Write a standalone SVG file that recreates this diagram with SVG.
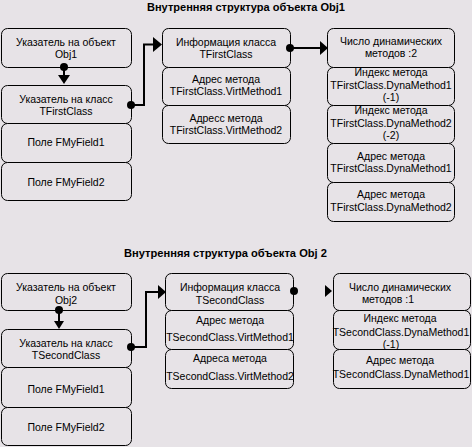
<svg xmlns="http://www.w3.org/2000/svg" width="472" height="447" viewBox="0 0 472 447">
<style>
.bg{fill:#e7e3e7}
.box{fill:#e7e3e7;stroke:#000;stroke-width:1}
.t{font-family:"Liberation Sans",Arial,sans-serif;font-size:10.5px;fill:#000;text-anchor:middle}
.title{font-family:"Liberation Sans",Arial,sans-serif;font-size:11px;font-weight:bold;fill:#000}
.ln{fill:none;stroke:#000;stroke-width:2}
.dot{fill:#000}
.ah{fill:#000}
</style>
<rect class="bg" x="0" y="0" width="472" height="447"/>
<text class="title" x="147" y="11" textLength="198" lengthAdjust="spacingAndGlyphs">Внутренняя структура объекта Obj1</text>
<text class="title" x="124" y="257" textLength="203" lengthAdjust="spacingAndGlyphs">Внутренняя структура объекта Obj 2</text>

<g id="obj1-ptr"><rect class="box" x="1.5" y="28.5" width="130" height="39" rx="6"/><text class="t" x="66" y="46">Указатель на объект</text><text class="t" x="66" y="58">Obj1</text></g>
<g id="obj1-cls"><rect class="box" x="1.5" y="85.5" width="130" height="38" rx="6"/><text class="t" x="66" y="103">Указатель на класс</text><text class="t" x="66" y="115">TFirstClass</text></g>
<g id="obj1-f1"><rect class="box" x="1.5" y="123.5" width="130" height="39" rx="6"/><text class="t" x="66" y="146">Поле FMyField1</text></g>
<g id="obj1-f2"><rect class="box" x="1.5" y="162.5" width="130" height="38" rx="6"/><text class="t" x="66" y="186">Поле FMyField2</text></g>

<g id="c1-info"><rect class="box" x="162.5" y="28.5" width="128" height="39" rx="6"/><text class="t" x="226" y="46">Информация класса</text><text class="t" x="226" y="58">TFirstClass</text></g>
<g id="c1-vm1"><rect class="box" x="162.5" y="67.5" width="128" height="38" rx="6"/><text class="t" x="226" y="83">Адрес метода</text><text class="t" x="226" y="95">TFirstClass.VirtMethod1</text></g>
<g id="c1-vm2"><rect class="box" x="162.5" y="105.5" width="128" height="38" rx="6"/><text class="t" x="226" y="122">Адресс метода</text><text class="t" x="226" y="134">TFirstClass.VirtMethod2</text></g>

<g id="c1-dyncount"><rect class="box" x="327.5" y="28.5" width="127" height="39" rx="6"/><text class="t" x="391" y="45">Число динамических</text><text class="t" x="391" y="57">методов :2</text></g>
<g id="c1-idx1"><rect class="box" x="327.5" y="67.5" width="127" height="38" rx="6"/><text class="t" x="391" y="76">Индекс метода</text><text class="t" x="391" y="89">TFirstClass.DynaMethod1</text><text class="t" x="391" y="101">(-1)</text></g>
<g id="c1-idx2"><rect class="box" x="327.5" y="105.5" width="127" height="38" rx="6"/><text class="t" x="391" y="114">Индекс метода</text><text class="t" x="391" y="127">TFirstClass.DynaMethod2</text><text class="t" x="391" y="139">(-2)</text></g>
<g id="c1-adr1"><rect class="box" x="327.5" y="143.5" width="127" height="39" rx="6"/><text class="t" x="391" y="160">Адрес метода</text><text class="t" x="391" y="172">TFirstClass.DynaMethod1</text></g>
<g id="c1-adr2"><rect class="box" x="327.5" y="182.5" width="127" height="39" rx="6"/><text class="t" x="391" y="198">Адрес метода</text><text class="t" x="391" y="211">TFirstClass.DynaMethod2</text></g>

<g id="obj2-ptr"><rect class="box" x="1.5" y="273.5" width="130" height="37" rx="6"/><text class="t" x="66" y="291">Указатель на объект</text><text class="t" x="66" y="304">Obj2</text></g>
<g id="obj2-cls"><rect class="box" x="1.5" y="329.5" width="130" height="38" rx="6"/><text class="t" x="66" y="347">Указатель на класс</text><text class="t" x="66" y="359">TSecondClass</text></g>
<g id="obj2-f1"><rect class="box" x="1.5" y="367.5" width="130" height="40" rx="6"/><text class="t" x="66" y="393">Поле FMyField1</text></g>
<g id="obj2-f2"><rect class="box" x="1.5" y="407.5" width="130" height="38" rx="6"/><text class="t" x="66" y="431">Поле FMyField2</text></g>

<g id="c2-info"><rect class="box" x="165.5" y="273.5" width="128" height="37" rx="6"/><text class="t" x="230" y="291">Информация класса</text><text class="t" x="230" y="304">TSecondClass</text></g>
<g id="c2-vm1"><rect class="box" x="165.5" y="310.5" width="128" height="39" rx="6"/><text class="t" x="230" y="324">Адрес метода</text><text class="t" x="230" y="341">TSecondClass.VirtMethod1</text></g>
<g id="c2-vm2"><rect class="box" x="165.5" y="349.5" width="128" height="39" rx="6"/><text class="t" x="230" y="362">Адреса метода</text><text class="t" x="230" y="380">TSecondClass.VirtMethod2</text></g>

<g id="c2-dyncount"><rect class="box" x="333.5" y="273.5" width="137" height="37" rx="6"/><text class="t" x="400" y="291">Число динамических</text><text class="t" x="388" y="303">методов :1</text></g>
<g id="c2-idx1"><rect class="box" x="333.5" y="310.5" width="137" height="39" rx="6"/><text class="t" x="400" y="322">Индекс метода</text><text class="t" x="401" y="336">TSecondClass.DynaMethod1</text><text class="t" x="391" y="348">(-1)</text></g>
<g id="c2-adr1"><rect class="box" x="333.5" y="349.5" width="137" height="39" rx="6"/><text class="t" x="400" y="364">Адрес метода</text><text class="t" x="401" y="378">TSecondClass.DynaMethod1</text></g>

<g id="connectors">
<line class="ln" x1="64" y1="67" x2="64" y2="76"/>
<circle class="dot" cx="64" cy="67" r="4"/>
<polygon class="ah" points="58,75 70,75 64,84"/>
<path class="ln" d="M131,105 H144 V44.5 H154"/>
<circle class="dot" cx="131" cy="105" r="4"/>
<polygon class="ah" points="153,37 162,44.5 153,52"/>
<line class="ln" x1="290" y1="48" x2="321" y2="48"/>
<circle class="dot" cx="290" cy="48" r="4"/>
<polygon class="ah" points="320,41 328,48 320,55"/>

<line class="ln" x1="59" y1="310" x2="59" y2="322"/>
<circle class="dot" cx="59" cy="310" r="4"/>
<polygon class="ah" points="54,321 64,321 59,329"/>
<path class="ln" d="M131,347 H146 V292 H158"/>
<circle class="dot" cx="131" cy="347" r="4"/>
<polygon class="ah" points="158,285 166,292 158,299"/>
<circle class="dot" cx="294" cy="291" r="4"/>
<polygon class="ah" points="325,285 332,291 325,297"/>
</g>
</svg>
